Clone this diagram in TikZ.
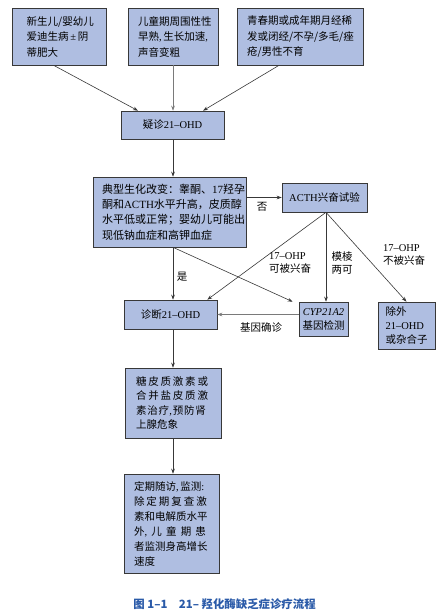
\documentclass[tikz,border=0pt]{standalone}
\usepackage{fontspec}
\setmainfont{Noto Sans CJK SC}
\newfontfamily\latf{Liberation Serif}
\newcommand\LS[1]{{\latf #1}}
\newcommand\spr[2]{\leavevmode\hbox to #1{#2}}
\usetikzlibrary{arrows.meta}
\definecolor{boxfill}{HTML}{AFBEE1}
\definecolor{boxline}{HTML}{383838}
\definecolor{linegray}{HTML}{7A7A7A}
\definecolor{capblue}{HTML}{2A5AA8}
\begin{document}
\begin{tikzpicture}[x=1pt,y=-1pt,
  box/.style={draw=boxline, fill=boxfill, line width=0.6pt, inner sep=0pt,
    font=\fontsize{10.5}{15.5}\selectfont, align=left},
  cbox/.style={box, align=center},
  conn/.style={draw=boxline, line width=0.6pt, -{Stealth[length=5pt,width=3.6pt]}},
  gconn/.style={conn, draw=linegray},
  lab/.style={font=\fontsize{10.5}{12.5}\selectfont, align=left, inner sep=0pt}]
\useasboundingbox (0,0) rectangle (444,615);
\coordinate (sp) at (173,0);

\node[box, minimum width=94pt, minimum height=56.7pt, text width=66pt] (A) at (59.7,36.7)
  {新生儿/婴幼儿\\爱迪生病\,\LS{±}\,阴\\蒂肥大};
\node[box, minimum width=90pt, minimum height=56.7pt, text width=70pt] (B) at (173,36.7)
  {儿童期周围性性\\早熟\LS{,\,}生长加速\LS{,}\\声音变粗};
\node[box, minimum width=126pt, minimum height=56.7pt, text width=106pt] (C) at (300,36.7)
  {青春期或成年期月经稀\\发或闭经/不孕/多毛/痤\\疮/男性不育};
\node[cbox, minimum width=103pt, minimum height=28pt] (D) at (172.5,125)
  {疑诊\LS{21–OHD}};
\node[box, minimum width=153pt, minimum height=70pt, text width=135pt,
  font=\fontsize{11}{15.2}\selectfont] (E) at (169.5,212)
  {典型生化改变：睾酮、\LS{17}羟孕\\酮和\LS{ACTH}水平升高，皮质醇\\水平低或正常；婴幼儿可能出\\现低钠血症和高钾血症};
\node[cbox, minimum width=85pt, minimum height=29pt] (F) at (324.5,197.5)
  {\LS{ACTH}兴奋试验};
\node[cbox, minimum width=93pt, minimum height=29pt] (G) at (170.5,314.5)
  {诊断\LS{21–OHD}};
\node[cbox, minimum width=49pt, minimum height=34pt, font=\fontsize{10.5}{14}\selectfont] (H) at (323.5,319)
  {\LS{\itshape CYP21A2}\\基因检测};
\node[box, minimum width=57pt, minimum height=47pt, text width=42pt,
  font=\fontsize{10.5}{14}\selectfont] (I) at (406.5,325.5)
  {除外\\\LS{21–OHD}\\或杂合子};
\node[box, minimum width=96pt, minimum height=70pt, text width=74pt,
  font=\fontsize{10.5}{14.6}\selectfont] (J) at (173,403)
  {\spr{72pt}{糖\hfil 皮\hfil 质\hfil 激\hfil 素\hfil 或}\\
   \spr{72pt}{合\hfil 并\hfil 盐\hfil 皮\hfil 质\hfil 激}\\
   \spr{70pt}{素\hfil 治\hfil 疗\LS{,}\hfil 预\hfil 防\hfil 肾}\\上腺危象};
\node[box, minimum width=95pt, minimum height=99pt, text width=75pt,
  font=\fontsize{10.5}{15}\selectfont] (K) at (171.5,523.5)
  {定期随访\LS{,\,}监测\LS{:}\\
   \spr{73pt}{除\hfil 定\hfil 期\hfil 复\hfil 查\hfil 激}\\
   素和电解质水平\\
   \spr{72pt}{外\LS{,}\hfil 儿\hfil 童\hfil 期\hfil 患}\\
   者监测身高增长\\速度};

\coordinate (fs) at ([xshift=1.5pt]F.south);
\draw[conn] ([xshift=-6pt]A.south) -- ([xshift=-34.5pt]D.north);
\draw[gconn] (B.south) -- (B.south |- D.north);
\draw[conn] ([xshift=-21pt]C.south) -- ([xshift=30.5pt]D.north);
\draw[conn] (D.south -| sp) -- (E.north -| sp);
\draw[conn] (E.east |- F.west) -- (F.west);
\draw[conn] (E.south -| sp) -- (G.north -| sp);
\draw[conn] (E.south -| sp) -- ([xshift=-6pt]H.north west);
\draw[conn] (fs) -- ([xshift=-10pt]G.north east);
\draw[conn] (fs) -- (fs |- H.north);
\draw[conn] (fs) -- (I.north);
\draw[gconn] (G.east -| H.west) -- (G.east);
\draw[conn] (G.south -| sp) -- (J.north -| sp);
\draw[conn] (J.south -| sp) -- (K.north -| sp);

\node[lab] (l1) at (262,207) {否};
\node[lab] (l2) at (182,277) {是};
\node[lab] (l3) at (290,263) {\LS{17–OHP}\\可被兴奋};
\node[lab] (l4) at (342,263) {模棱\\两可};
\node[lab] (l5) at (404,255) {\LS{17–OHP}\\不被兴奋};
\node[lab] (l6) at (261,327) {基因确诊};

\node[font=\fontsize{11.4}{14}\selectfont\bfseries, text=capblue, inner sep=0pt] (cap) at (224.5,604)
  {图 1–1\quad 21– 羟化酶缺乏症诊疗流程};
\end{tikzpicture}
\end{document}
